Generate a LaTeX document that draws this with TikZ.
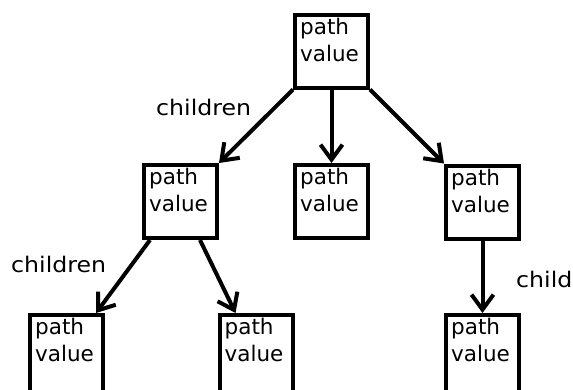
\documentclass[tikz,border=0pt]{standalone}
\usepackage{fontspec}
\setmainfont{DejaVu Sans}
\newfontfamily\labelfont{DejaVu Sans}[FakeStretch=1.1]
\usetikzlibrary{arrows.meta}
\begin{document}
\begin{tikzpicture}[x=1pt,y=-1pt,
  treebox/.style={draw, line width=4pt, minimum size=73pt, inner sep=0pt},
  tallbox/.style={treebox, minimum height=90pt},
  boxtext/.style={anchor=north west, inner sep=0pt, align=left,
                  font=\fontsize{21.5}{27}\selectfont},
  lbl/.style={anchor=base west, inner sep=0pt,
              font=\labelfont\fontsize{21.5}{27}\selectfont},
  link/.style={line width=4pt, -{Straight Barb[length=15pt,width=22pt]}}]
\useasboundingbox (0,0) rectangle (573,389);
\clip (0,0) rectangle (573,389);

% tree nodes
\node[treebox] (root) at (331.5,51) {};
\node[treebox] (a)    at (180.5,201.5) {};
\node[treebox] (b)    at (331.5,201.5) {};
\node[treebox] (c)    at (482.5,202) {};
% leaves run past the lower edge
\node[tallbox] (a1)   at (66.5,360) {};
\node[tallbox] (a2)   at (256,360) {};
\node[tallbox] (c1)   at (482.5,360) {};

% field names inside each node
\foreach \n in {root,a,b,c,a1,a2,c1}
  \node[boxtext] (\n-text) at ([shift={(7,5)}]\n.north west) {path\\value};

% links
\draw[link] (root.south west) -- (a.north east);
\draw[link] (root.south) -- (b.north);
\draw[link] (root.south east) -- (c.north west);
\draw[link] ([xshift=8pt]a.south west) -- ([xshift=-9pt]a1.north east);
\draw[link] ([xshift=-19pt]a.south east) -- ([xshift=18pt]a2.north west);
\draw[link] (c.south) -- (c1.north);

% link labels
\node[lbl] (lab-root) at (156,115) {children};
\node[lbl] (lab-a)    at (11,272) {children};
\node[lbl] (lab-c)    at (516,287) {child};
\end{tikzpicture}
\end{document}
